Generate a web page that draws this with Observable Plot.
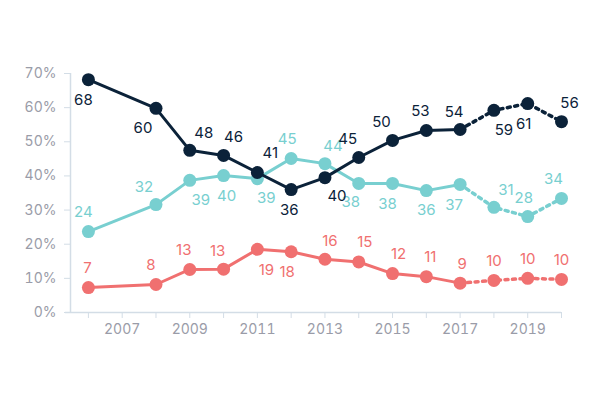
<!DOCTYPE html>
<html><head><meta charset="utf-8">
<script src="https://cdn.jsdelivr.net/npm/d3@7"></script>
<script src="https://cdn.jsdelivr.net/npm/@observablehq/plot@0.6"></script>
<style>
body{margin:0;background:#fff;}
svg{font-family:Inter,"Noto Sans",sans-serif;}
</style>
</head><body><div id="chart"></div>
<script>
const years = [2006, 2008, 2009, 2010, 2011, 2012, 2013, 2014, 2015, 2016, 2017, 2018, 2019, 2020];
const tickYears = [2006, 2007, 2008, 2009, 2010, 2011, 2012, 2013, 2014, 2015, 2016, 2017, 2018, 2019, 2020];
const yTicks = [0, 10, 20, 30, 40, 50, 60, 70];

const darkValues  = [68.2, 59.8, 47.5, 46.0, 41.0, 36.0, 39.5, 45.4, 50.4, 53.3, 53.6, 59.2, 61.2, 55.9];
const darkLabels  = [68, 60, 48, 46, 41, 36, 40, 45, 50, 53, 54, 59, 61, 56];
const tealValues  = [23.7, 31.6, 38.7, 40.1, 39.2, 45.1, 43.6, 37.8, 37.8, 35.7, 37.5, 30.8, 28.1, 33.4];
const tealLabels  = [24, 32, 39, 40, 39, 45, 44, 38, 38, 36, 37, 31, 28, 34];
const coralValues = [7.3, 8.2, 12.6, 12.7, 18.5, 17.8, 15.6, 14.8, 11.4, 10.5, 8.6, 9.4, 10.0, 9.7];
const coralLabels = [7, 8, 13, 13, 19, 18, 16, 15, 12, 11, 9, 10, 10, 10];

// label placement offsets (px)
const darkDx  = [-5, -13, 14, 10, 13, -2, 12, -11, -11, -6, -6, 10, -4, 8];
const darkDy  = [21, 20, -17, -18, -19, 21, 19, -18, -18, -19, -17, 20, 21, -18];
const tealDx  = [-5, -12, 11, 3, 9, -4, 8, -8, -5, 0, -6, 12, -4, -8];
const tealDy  = [-19, -17, 20, 21, 20, -19, -17, 19, 21, 20, 21, -17, -18, -19];
const coralDx = [-1, -5, -6, -6, 9, -4, 5, 6, 6, 4, 2, 0, 0, 0];
const coralDy = [-19, -19, -19, -18, 21, 20, -18, -20, -19, -19, -19, -19, -19, -19];

const splitYear = 2017;
const axisColor = "#d3dde6";
const textColor = "#9a9ca8";

const series = [
  {color: "#f07070", values: coralValues, labels: coralLabels, dx: coralDx, dy: coralDy},
  {color: "#78cfd0", values: tealValues, labels: tealLabels, dx: tealDx, dy: tealDy},
  {color: "#0b2239", values: darkValues, labels: darkLabels, dx: darkDx, dy: darkDy}
];

const xMin = 2005.47;
const marks = [
  Plot.ruleY([0], {stroke: axisColor, strokeWidth: 1.5, insetLeft: -5}),
  Plot.ruleX([xMin], {y1: 0, y2: 70, stroke: axisColor, strokeWidth: 1.5}),
  Plot.axisX({ticks: tickYears, tickFormat: d => (d % 2 ? String(d) : ""), tickSize: 6, tickPadding: 6,
    stroke: axisColor, fill: textColor, fontSize: 14, label: null}),
  Plot.axisY({ticks: yTicks, tickFormat: d => d + "%", tickSize: 6, tickPadding: 8,
    stroke: axisColor, fill: textColor, fontSize: 14, label: null})
];

for (const s of series) {
  const rows = years.map((year, i) => ({year, v: s.values[i], label: String(s.labels[i]), dx: s.dx[i], dy: s.dy[i]}));
  marks.push(Plot.line(rows.filter(d => d.year <= splitYear), {x: "year", y: "v", stroke: s.color, strokeWidth: 3}));
  marks.push(Plot.line(rows.filter(d => d.year >= splitYear), {x: "year", y: "v", stroke: s.color, strokeWidth: 3.5, strokeDasharray: "3,4.5"}));
  marks.push(Plot.dot(rows, {x: "year", y: "v", r: 6.5, fill: s.color, stroke: "none"}));
  for (const d of rows) {
    marks.push(Plot.text([d], {x: "year", y: "v", text: "label", dx: d.dx, dy: d.dy, fill: s.color, fontSize: 15}));
  }
}

const chart = Plot.plot({
  width: 600,
  height: 400,
  marginLeft: 70,
  marginRight: 39,
  marginTop: 73,
  marginBottom: 88,
  x: {domain: [xMin, 2020], label: null},
  y: {domain: [0, 70], label: null},
  style: {background: "#fff", fontFamily: "Inter, 'Noto Sans', sans-serif"},
  marks
});
document.getElementById("chart").appendChild(chart);
</script>
</body></html>
